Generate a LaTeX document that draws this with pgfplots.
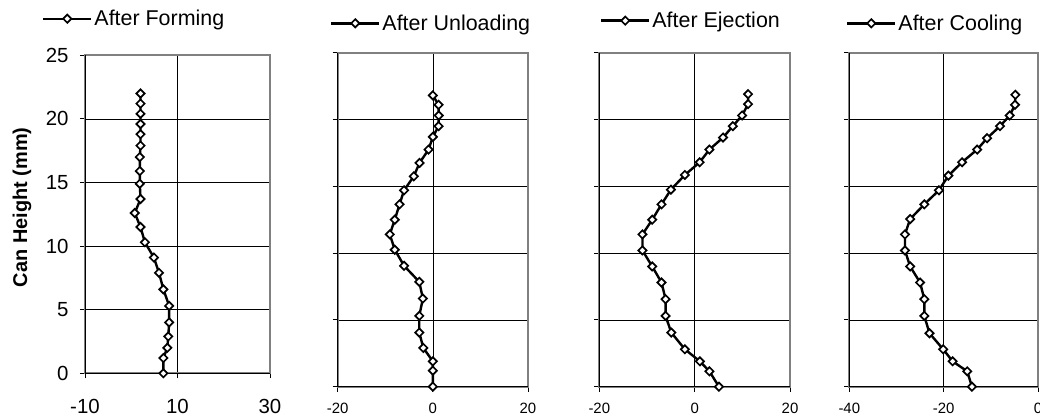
\documentclass[border=0pt]{standalone}
\usepackage{fontspec}
\setmainfont{Liberation Sans}
\usepackage{pgfplots}
\pgfplotsset{compat=1.18}

\pgfplotsset{
  prof/.style={black, line width=2.4bp, mark=square*,
      mark size=2.9bp, mark options={rotate=45, fill=white, draw=black,
      line width=1.7bp, solid}},
  panel/.style={
    scale only axis, clip=false,
    ymin=0, ymax=25, ytick={0,5,...,25},
    grid=major, major grid style={black, line width=0.7bp},
    axis line style={draw=black!50, line width=2bp},
    tick style={black, line width=0.8bp},
    major tick length=5bp, tick align=outside, tick pos=left,
    /pgf/number format/assume math mode=true,
    legend style={draw=none, fill=none, inner sep=0pt, outer sep=0pt,
      font=\fontsize{21.5}{25}\selectfont, anchor=west},
    legend image code/.code={\draw[##1, mark repeat=2, mark phase=2]
      plot coordinates {(0bp,0bp) (24bp,0bp) (48bp,0bp)};},
  },
}

\begin{document}
\begin{tikzpicture}
% Panel 1
\begin{axis}[panel, at={(85bp,43.7bp)}, anchor=south west,
  width=185bp, height=318bp,
  xmin=-10, xmax=30, xtick={-10,10,30},
  ticklabel style={font=\fontsize{20.5}{24}\selectfont},
  xticklabel style={yshift=-17bp}, yticklabel style={xshift=-8bp},
  ylabel={\bfseries Can Height (mm)},
  ylabel style={at={(axis description cs:-0.34,0.522)}, anchor=center,
    font=\fontsize{20}{24}\selectfont},
  legend style={at={(axis description cs:-0.232,1.115)}}]
\addplot[prof] coordinates {(2.0,22.0) (2.0,21.2) (2.0,20.4) (2.0,19.6) (2.0,18.8)
  (2.0,17.9) (1.85,17.0) (1.85,15.9) (1.85,14.9) (2.0,13.7) (0.76,12.6)
  (2.0,11.5) (2.95,10.3) (4.9,9.1) (6.0,7.9) (6.95,6.6) (8.2,5.3) (8.2,4.0)
  (8.0,2.9) (7.8,2.0) (6.95,1.2) (6.95,0)};
\addlegendentry{After Forming}
\draw[black, line width=0.8bp] (rel axis cs:0,1) -- (rel axis cs:0,0) -- (rel axis cs:1,0);
\end{axis}
% Panel 2
\begin{axis}[panel, at={(337.7bp,30.3bp)}, anchor=south west,
  width=190.3bp, height=334bp,
  xmin=-20, xmax=20, xtick={-20,0,20}, yticklabels={},
  ticklabel style={font=\fontsize{15}{18}\selectfont},
  xticklabel style={yshift=-8bp},
  legend style={at={(axis description cs:-0.040,1.088)}}]
\addplot[prof] coordinates {(0,21.8) (1.2,21.1) (1.25,20.3) (1.2,19.5) (0,18.7)
  (-0.9,17.75) (-2.8,16.75) (-4.0,15.75) (-6.05,14.7) (-7.0,13.65) (-8.0,12.5)
  (-9.05,11.4) (-8.0,10.25) (-6.05,9.05) (-2.85,7.85) (-2.1,6.6) (-2.85,5.3)
  (-2.85,4.05) (-2.0,2.9) (0,1.9) (0,1.2) (0,0)};
\addlegendentry{After Unloading}
\draw[black, line width=0.8bp] (rel axis cs:0,1) -- (rel axis cs:0,0) -- (rel axis cs:1,0);
\end{axis}
% Panel 3
\begin{axis}[panel, at={(599.3bp,30.3bp)}, anchor=south west,
  width=190.7bp, height=334bp,
  xmin=-20, xmax=20, xtick={-20,0,20}, yticklabels={},
  ticklabel style={font=\fontsize{15}{18}\selectfont},
  xticklabel style={yshift=-8bp},
  legend style={at={(axis description cs:0.004,1.096)}}]
\addplot[prof] coordinates {(11.2,21.9) (11.2,21.15) (9.95,20.3) (8.0,19.5) (5.95,18.65)
  (3.1,17.75) (1.05,16.8) (-2.05,15.85) (-4.98,14.75) (-6.95,13.65) (-8.9,12.5)
  (-10.95,11.4) (-10.95,10.2) (-8.9,9.0) (-6.95,7.8) (-6.1,6.55) (-6.1,5.3)
  (-4.9,4.05) (-2.05,2.8) (1.1,1.9) (3.1,1.15) (5.1,0)};
\addlegendentry{After Ejection}
\draw[black, line width=0.8bp] (rel axis cs:0,1) -- (rel axis cs:0,0) -- (rel axis cs:1,0);
\end{axis}
% Panel 4
\begin{axis}[panel, at={(849.3bp,30.3bp)}, anchor=south west,
  width=188.7bp, height=334bp,
  xmin=-40, xmax=0, xtick={-40,-20,0}, yticklabels={},
  ticklabel style={font=\fontsize{15}{18}\selectfont},
  xticklabel style={yshift=-8bp},
  legend style={at={(axis description cs:-0.017,1.088)}}]
\addplot[prof] coordinates {(-4.8,21.85) (-4.87,21.1) (-6.0,20.3) (-8.06,19.5) (-10.8,18.6)
  (-12.9,17.75) (-16.1,16.8) (-19.0,15.8) (-21.0,14.7) (-24.1,13.65) (-27.1,12.55)
  (-28.2,11.4) (-28.2,10.2) (-27.1,9.0) (-25.0,7.8) (-24.1,6.55) (-24.1,5.3)
  (-23.0,4.0) (-20.1,2.8) (-18.1,1.9) (-15.0,1.15) (-14.0,0)};
\addlegendentry{After Cooling}
\draw[black, line width=0.8bp] (rel axis cs:0,1) -- (rel axis cs:0,0) -- (rel axis cs:1,0);
\end{axis}
\pgfresetboundingbox
\path[use as bounding box] (0,0) rectangle (1040bp,417bp);
\end{tikzpicture}
\end{document}
